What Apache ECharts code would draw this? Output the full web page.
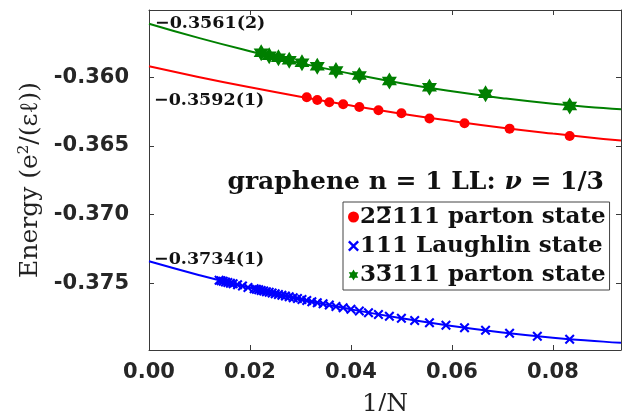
<!DOCTYPE html>
<html>
<head>
<meta charset="utf-8">
<script src="https://cdn.jsdelivr.net/npm/echarts@6/dist/echarts.min.js"></script>
<style>html,body{margin:0;padding:0;background:#fff}#c{width:622px;height:411px}</style>
</head>
<body>
<div id="c"></div>
<script>
// ---- data ----
const redN = [12, 14, 16, 18, 20, 22, 24, 26, 28, 30, 32];
const redE = [-0.36427, -0.36374, -0.36335, -0.36300, -0.36262, -0.36240, -0.36216, -0.36197, -0.36182, -0.36165, -0.36146];

const greenN = [12, 15, 18, 21, 24, 27, 30, 33, 36, 39, 42, 45];
const greenE = [-0.36209, -0.36120, -0.36072, -0.36027, -0.35987, -0.35950, -0.35920, -0.35895, -0.35876, -0.35858, -0.35843, -0.35822];

const blueN = [12, 13, 14, 15, 16, 17, 18, 19, 20, 21, 22, 23, 24, 25, 26, 27, 28, 29, 30, 31, 32, 33, 34, 35, 36, 37, 38, 39, 40, 41, 42, 43, 44, 45, 46, 47, 48, 51, 54, 57, 60, 62, 64, 66, 68, 70, 72];
const blueE = [-0.37907, -0.37885, -0.37864, -0.37843, -0.37824, -0.37805, -0.37787, -0.37771, -0.37755, -0.37740, -0.37727, -0.37714, -0.37702, -0.37690, -0.37679, -0.37669, -0.37659, -0.37650, -0.37642, -0.37634, -0.37626, -0.37618, -0.37611, -0.37605, -0.37598, -0.37592, -0.37587, -0.37581, -0.37576, -0.37571, -0.37566, -0.37561, -0.37557, -0.37552, -0.37548, -0.37544, -0.37540, -0.37530, -0.37520, -0.37511, -0.37503, -0.37499, -0.37494, -0.37490, -0.37485, -0.37482, -0.37478];

// fitted curves
const fitX = [0, 0.01, 0.02, 0.03, 0.04, 0.05, 0.06, 0.07, 0.08, 0.09, 0.0935];
const redFit = [-0.35920, -0.35999, -0.36073, -0.36142, -0.36206, -0.36265, -0.36318, -0.36367, -0.36410, -0.36449, -0.36461];
const greenFit = [-0.35610, -0.35715, -0.35810, -0.35897, -0.35974, -0.36043, -0.36102, -0.36152, -0.36193, -0.36224, -0.36233];
const blueFit = [-0.37340, -0.37441, -0.37533, -0.37616, -0.37690, -0.37755, -0.37811, -0.37858, -0.37896, -0.37925, -0.37934];

const xTicks = [0, 0.02, 0.04, 0.06, 0.08];
const yTicks = [-0.375, -0.370, -0.365, -0.360];

const seriesNames = ['22\u0305111 parton state', '111 Laughlin state', '33\u0305111 parton state'];
const intercepts = ['\u22120.3561(2)', '\u22120.3592(1)', '\u22120.3734(1)'];

// ---- chart ----
const pts = (N, E) => N.map((n, i) => [1 / n, E[i]]);
const line = (Y) => fitX.map((x, i) => [x, Y[i]]);

const starPath = 'path://M0,-100L28.9,-50L86.6,-50L57.7,0L86.6,50L28.9,50L0,100L-28.9,50L-86.6,50L-57.7,0L-86.6,-50L-28.9,-50Z';
const crossPath = 'path://M0,3L3,0L10,7L17,0L20,3L13,10L20,17L17,20L10,13L3,20L0,17L7,10Z';

// small bar image used as the overline above a digit in the legend
const barImg = document.createElement('canvas');
barImg.width = 14; barImg.height = 26;
(function () { const g = barImg.getContext('2d'); g.fillStyle = '#111'; g.fillRect(1, 1, 12, 2); })();

const axisCol = '#3a3a3a';
const tickFont = {fontFamily: 'DejaVu Sans', fontWeight: 'bold', fontSize: 21, color: '#262626'};
const serifB = 'DejaVu Serif';
const legFont = {fontFamily: serifB, fontWeight: 'bold', fontSize: 23, color: '#111', lineHeight: 26};

const chart = echarts.init(document.getElementById('c'), null, {renderer: 'canvas'});
chart.setOption({
  animation: false,
  backgroundColor: '#fff',
  grid: {left: 149, right: 1, top: 10, bottom: 61, containLabel: false, outerBoundsMode: 'none'},
  title: {
    text: 'graphene n = 1 LL: {i|\u03bd} = 1/3',
    right: 13, top: 165,
    textStyle: {fontFamily: serifB, fontWeight: 'bold', fontSize: 25, color: '#111',
      rich: {i: {fontFamily: serifB, fontWeight: 'bold', fontStyle: 'italic', fontSize: 25, color: '#111'}}}
  },
  legend: {
    orient: 'vertical', left: 343, top: 202,
    data: seriesNames,
    formatter: name => name.replace(/(\d)\u0305/g, '{o|$1}'),
    itemWidth: 11, itemHeight: 11, itemGap: 3,
    padding: [2, 4, 2, 5],
    borderColor: '#444', borderWidth: 1, backgroundColor: '#fff',
    textStyle: Object.assign({padding: [0, 0, 0, -4],
      rich: {o: Object.assign({backgroundColor: {image: barImg}}, legFont)}}, legFont)
  },
  xAxis: [{
    type: 'value', min: 0, max: 0.0935, position: 'bottom',
    name: '1/N', nameLocation: 'middle', nameGap: 42,
    nameTextStyle: {fontFamily: serifB, fontSize: 25, color: '#222'},
    axisLine: {show: true, onZero: false, lineStyle: {color: axisCol, width: 1}},
    axisTick: {show: true, inside: true, length: 5, customValues: xTicks, lineStyle: {color: axisCol}},
    axisLabel: Object.assign({margin: 12, customValues: xTicks, formatter: v => v.toFixed(2)}, tickFont),
    splitLine: {show: false}
  }, {
    type: 'value', min: 0, max: 0.0935, position: 'top',
    axisLine: {show: true, onZero: false, lineStyle: {color: axisCol, width: 1}},
    axisTick: {show: true, inside: true, length: 5, customValues: xTicks, lineStyle: {color: axisCol}},
    axisLabel: {show: false}, splitLine: {show: false}
  }],
  yAxis: [{
    type: 'value', min: -0.37986, max: -0.35510, position: 'left',
    name: 'Energy (e{s|2}/(\u03b5\u2113))', nameLocation: 'middle', nameGap: 104, nameRotate: 90,
    nameTextStyle: {fontFamily: serifB, fontSize: 25, color: '#222',
      rich: {s: {fontFamily: serifB, fontSize: 15, color: '#222', padding: [0, 0, 13, 0]}}},
    axisLine: {show: true, onZero: false, lineStyle: {color: axisCol, width: 1}},
    axisTick: {show: true, inside: true, length: 5, customValues: yTicks, lineStyle: {color: axisCol}},
    axisLabel: Object.assign({margin: 20, customValues: yTicks, formatter: v => v.toFixed(3)}, tickFont),
    splitLine: {show: false}
  }, {
    type: 'value', min: -0.37986, max: -0.35510, position: 'right',
    axisLine: {show: true, onZero: false, lineStyle: {color: axisCol, width: 1}},
    axisTick: {show: true, inside: true, length: 5, customValues: yTicks, lineStyle: {color: axisCol}},
    axisLabel: {show: false}, splitLine: {show: false}
  }],
  graphic: [
    {type: 'text', x: 155, y: 23, style: {text: intercepts[0], fontFamily: serifB, fontWeight: 'bold', fontSize: 17.5, fill: '#111', verticalAlign: 'middle'}},
    {type: 'text', x: 154, y: 100, style: {text: intercepts[1], fontFamily: serifB, fontWeight: 'bold', fontSize: 17.5, fill: '#111', verticalAlign: 'middle'}},
    {type: 'text', x: 154, y: 259, style: {text: intercepts[2], fontFamily: serifB, fontWeight: 'bold', fontSize: 17.5, fill: '#111', verticalAlign: 'middle'}}
  ],
  series: [
    {type: 'line', data: line(redFit), smooth: true, symbol: 'none', lineStyle: {color: '#ff0000', width: 2}, silent: true, z: 2},
    {type: 'line', data: line(blueFit), smooth: true, symbol: 'none', lineStyle: {color: '#0000ff', width: 2}, silent: true, z: 2},
    {type: 'line', data: line(greenFit), smooth: true, symbol: 'none', lineStyle: {color: '#008000', width: 2}, silent: true, z: 2},
    {name: seriesNames[0], type: 'scatter', data: pts(redN, redE), symbol: 'circle', symbolSize: 10,
      itemStyle: {color: '#ff0000', opacity: 1}, z: 3},
    {name: seriesNames[1], type: 'scatter', data: pts(blueN, blueE), symbol: crossPath, symbolSize: 10,
      itemStyle: {color: '#0000ff', opacity: 1}, z: 3},
    {name: seriesNames[2], type: 'scatter', data: pts(greenN, greenE), symbol: starPath, symbolSize: [15, 17],
      itemStyle: {color: '#007f00', opacity: 1}, z: 3}
  ]
});
</script>
</body>
</html>
